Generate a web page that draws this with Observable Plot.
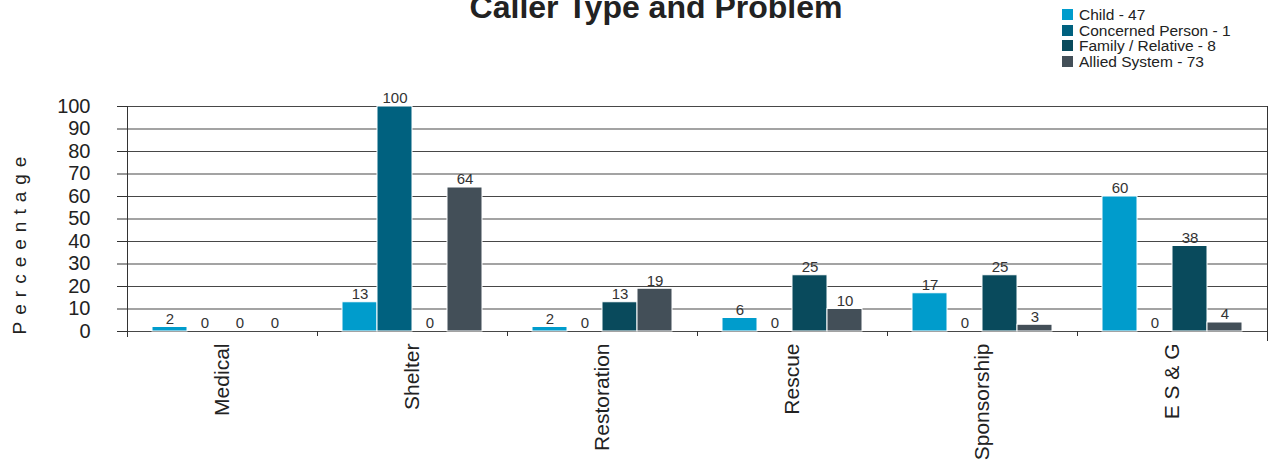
<!DOCTYPE html>
<html>
<head>
<meta charset="utf-8">
<script src="https://cdn.jsdelivr.net/npm/d3@7"></script>
<script src="https://cdn.jsdelivr.net/npm/@observablehq/plot@0.6"></script>
<style>
  html, body { margin: 0; padding: 0; background: #fff; }
  body { font-family: "Liberation Sans", Arial, sans-serif; }
  #wrap { position: relative; width: 1269px; height: 460px; overflow: hidden; }
  #title { position: absolute; left: 0; width: 1312px; top: -11px; text-align: center;
           font-weight: bold; font-size: 32px; line-height: 37px; color: #222; white-space: nowrap; }
  #legend { position: absolute; left: 1062px; top: 7px; font-size: 15.5px; color: #222; line-height: 15.5px; }
  #legend .row { display: flex; align-items: center; white-space: nowrap; }
  #legend .sw { width: 11px; height: 11px; margin-right: 6px; }
  #ylab { position: absolute; left: 20px; top: 242px; transform: translate(-50%, -50%) rotate(-90deg);
          font-size: 19px; letter-spacing: 7px; color: #222; white-space: nowrap; }
  #chart { position: absolute; left: 0; top: 0; }
</style>
</head>
<body>
<div id="wrap">
  <div id="chart"></div>
  <div id="title"></div>
  <div id="legend"></div>
  <div id="ylab"></div>
</div>
<script>
const titleText = "Caller Type and Problem";
const yLabel = "Perceentage";
const categories = ["Medical", "Shelter", "Restoration", "Rescue", "Sponsorship", "E S & G"];
const series = ["Child - 47", "Concerned Person - 1", "Family / Relative - 8", "Allied System - 73"];
const child = [2, 13, 2, 6, 17, 60];
const concerned = [0, 100, 0, 0, 0, 0];
const family = [0, 0, 13, 25, 25, 38];
const allied = [0, 64, 19, 10, 3, 4];
const colors = ["#009ccc", "#00617f", "#094a5c", "#434f58"];
const yTicks = [0, 10, 20, 30, 40, 50, 60, 70, 80, 90, 100];

const seriesValues = [child, concerned, family, allied];
const data = [];
categories.forEach((c, i) => {
  series.forEach((s, j) => data.push({category: c, series: s, value: seriesValues[j][i]}));
});

document.getElementById("title").textContent = titleText;
document.getElementById("ylab").textContent = yLabel;
const legend = document.getElementById("legend");
series.forEach((s, j) => {
  const row = document.createElement("div");
  row.className = "row";
  const sw = document.createElement("span");
  sw.className = "sw";
  sw.style.background = colors[j];
  const t = document.createElement("span");
  t.textContent = s;
  row.appendChild(sw); row.appendChild(t);
  legend.appendChild(row);
});

const chart = Plot.plot({
  width: 1269,
  height: 460,
  marginLeft: 127,
  marginRight: 2,
  marginTop: 106,
  marginBottom: 129,
  style: {fontFamily: "'Liberation Sans', Arial, sans-serif", background: "transparent", color: "#222"},
  fx: {domain: categories, padding: 0, label: null},
  x: {domain: series, paddingInner: 0, paddingOuter: 0.66, axis: null},
  y: {domain: [0, 100], label: null},
  color: {domain: series, range: colors},
  marks: [
    Plot.gridY(yTicks, {stroke: "#333", strokeOpacity: 0.9}),
    Plot.frame({anchor: "left", facet: "super", stroke: "#333", insetBottom: -5}),
    Plot.frame({anchor: "right", facet: "super", stroke: "#333", insetBottom: -9}),
    Plot.barY(data.filter(d => d.value > 0), {fx: "category", x: "series", y: "value", fill: "series", stroke: "white", strokeWidth: 1}),
    Plot.text(data, {fx: "category", x: "series", y: "value", text: d => String(d.value), dy: -8, fontSize: 15, fill: "#333"}),
    Plot.axisY(yTicks, {tickSize: 10, tickPadding: 27, fontSize: 20, stroke: "#333", label: null}),
    Plot.axisFx({anchor: "bottom", text: null, tickSize: 5, dx: -95, stroke: "#333", label: null}),
    Plot.axisFx({anchor: "bottom", tickSize: 0, tickPadding: 12, tickRotate: -90, fontSize: 21, label: null})
  ]
});
document.getElementById("chart").appendChild(chart);
</script>
</body>
</html>
